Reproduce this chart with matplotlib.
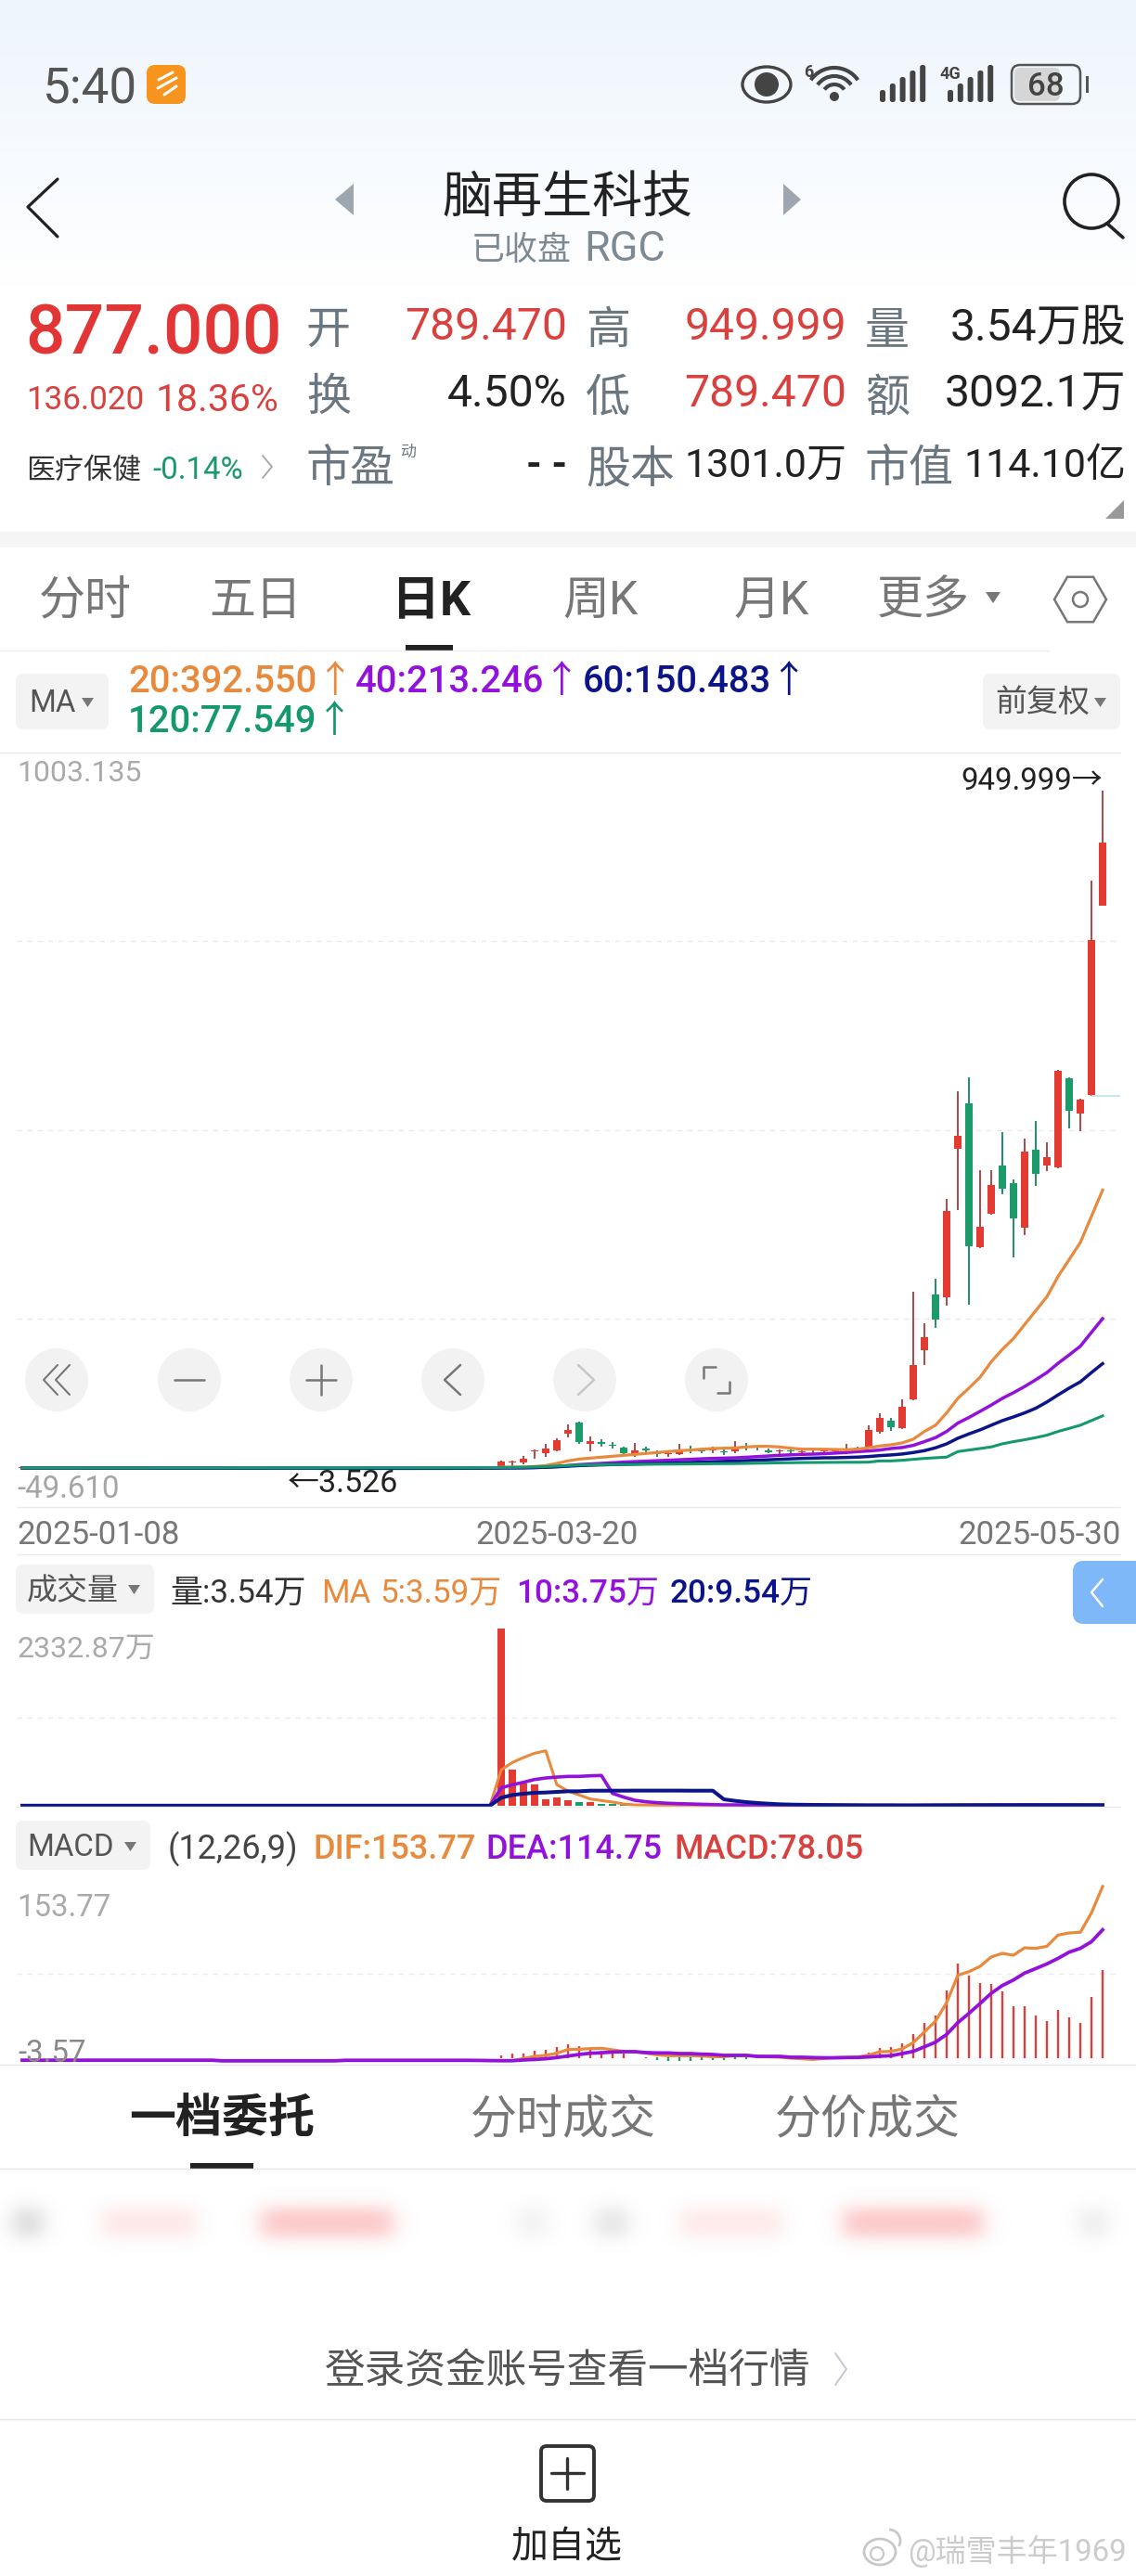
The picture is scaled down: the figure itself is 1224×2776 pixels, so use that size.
import numpy as np
import matplotlib
matplotlib.use("Agg")
import matplotlib.pyplot as plt
from matplotlib.patches import FancyBboxPatch, Circle, Ellipse, Polygon, Rectangle, Arc

FONT = ['Roboto', 'Noto Sans CJK SC', 'DejaVu Sans']
plt.rcParams['font.family'] = FONT

# ---------- DATA ----------
dates = ['2025-01-08', '2025-03-20', '2025-05-30']
price_max, price_min = 1003.135, -49.610
vol_max = 2332.87
macd_max, macd_min = 153.77, -3.57

opens = [4.6,4.7,4.5,4.6,4.8,4.6,4.5,4.4,4.6,4.5,4.4,4.5,4.3,4.4,4.5,4.3,4.2,4.3,4.4,4.2,4.1,4.2,4.0,3.9,3.8,3.9,4.0,4.1,4.0,4.2,4.1,4.3,4.2,4.3,4.4,4.3,4.4,4.5,4.4,4.5,4.6,4.5,4.6,
         7.3,12.5,12.5,28.1,25.5,29.8,52.7,67.9,38.0,40.6,37.6,32.8,25.0,32.0,25.5,24.6,24.6,29.8,29.4,29.0,28.5,27.7,35.4,32.2,29.4,27.7,28.5,27.3,27.5,27.8,28.0,30.7,32.9,
         32.9,54.9,71.0,60.1,101.2,169.5,247.3,242.5,450.0,513.5,312.9,359.6,427.5,402.9,339.8,448.7,426.6,424.0,548.5,500.0,524.7,789.47]
closes = [4.7,4.5,4.6,4.8,4.6,4.5,4.4,4.6,4.5,4.4,4.5,4.3,4.4,4.5,4.3,4.2,4.3,4.4,4.2,4.1,4.2,4.0,3.9,3.8,3.7,4.0,4.1,4.0,4.2,4.1,4.3,4.2,4.3,4.4,4.3,4.4,4.5,4.4,4.5,4.6,4.5,4.6,4.7,
          13.4,13.4,18.2,29.8,31.5,43.2,57.9,40.6,42.4,38.9,35.4,25.9,29.4,29.4,24.6,25.5,30.7,29.0,28.5,30.7,27.2,34.2,34.2,31.4,27.2,28.5,27.7,28.1,28.2,28.5,28.8,32.0,31.6,
          58.0,75.3,61.4,90.4,148.7,187.6,212.3,364.0,467.7,313.8,341.0,400.3,394.2,352.7,446.9,415.8,439.0,559.0,503.0,518.3,740.98,877.0]
highs = [5.0,5.0,4.8,5.0,5.1,4.9,4.7,4.8,4.8,4.7,4.7,4.7,4.6,4.7,4.7,4.5,4.5,4.6,4.6,4.4,4.4,4.3,4.2,4.1,4.0,4.2,4.3,4.3,4.4,4.4,4.5,4.4,4.5,4.6,4.6,4.6,4.7,4.7,4.7,4.8,4.8,4.8,5.0,
         14.7,14.7,21.2,31.1,38.5,46.2,65.3,69.6,49.3,45.0,40.6,35.0,39.3,35.0,29.0,28.5,38.0,35.4,32.0,34.2,30.7,41.9,39.3,35.0,32.0,30.7,31.0,29.8,30.0,31.0,31.0,38.5,35.0,
         64.5,81.7,74.4,101.2,250.3,206.2,268.9,379.9,530.8,549.8,420.1,420.1,473.7,407.0,464.0,489.0,459.0,560.0,549.8,520.4,825.0,949.999]
lows = [4.3,4.3,4.2,4.3,4.4,4.3,4.2,4.2,4.3,4.2,4.2,4.1,4.1,4.2,4.1,4.0,4.0,4.1,4.0,3.9,3.9,3.8,3.7,3.6,3.526,3.7,3.8,3.8,3.9,3.9,4.0,4.0,4.0,4.1,4.1,4.1,4.2,4.2,4.2,4.3,4.3,4.3,4.4,
        5.2,5.2,10.4,18.2,20.3,28.5,47.1,38.5,28.5,34.2,32.0,23.3,19.9,25.5,20.3,20.7,22.5,25.5,25.9,25.5,23.3,25.9,29.8,29.4,25.0,24.2,25.0,23.3,24.0,24.5,25.0,27.7,30.0,
        32.0,52.8,57.1,58.8,99.0,148.8,200.6,231.7,364.8,233.0,311.6,358.0,387.3,298.7,330.0,398.5,419.0,423.0,478.5,475.0,524.0,789.47]

ma20 = [4.6,4.6,4.6,4.6,4.6,4.6,4.6,4.5,4.5,4.5,4.5,4.5,4.5,4.4,4.4,4.4,4.4,4.4,4.4,4.3,4.3,4.3,4.3,4.2,4.2,4.2,4.2,4.2,4.2,4.2,4.2,4.2,4.2,4.2,4.2,4.2,4.3,4.3,4.3,4.3,4.3,4.3,4.4,
        6.0,6.0,6.3,6.9,8.2,11.2,14.7,17.3,18.6,19.9,21.2,22.5,23.8,25.1,26.4,27.7,29.0,29.8,31.1,32.0,32.4,32.8,34.2,35.0,35.0,34.2,32.4,31.1,31.1,31.0,30.7,
        30.3,31.2,33.0,35.5,37.2,39.8,45.0,55.8,64.5,81.7,102.0,116.3,131.5,153.0,170.4,185.5,205.0,224.4,243.8,272.0,295.7,319.4,356.0,392.55]
ma40 = [4.7,4.7,4.7,4.7,4.7,4.6,4.6,4.6,4.6,4.6,4.6,4.6,4.5,4.5,4.5,4.5,4.5,4.5,4.5,4.4,4.4,4.4,4.4,4.4,4.4,4.4,4.4,4.3,4.3,4.3,4.3,4.3,4.3,4.3,4.3,4.3,4.3,4.3,4.3,4.3,4.4,4.4,4.6,
        5.2,5.2,5.3,5.5,6.0,6.9,8.2,9.5,10.4,11.2,12.1,13.0,13.7,14.3,15.0,15.6,16.3,16.9,17.6,18.2,18.6,19.0,19.8,20.7,21.6,22.5,23.2,23.8,24.2,24.8,25.6,
        26.5,27.7,28.6,29.9,32.0,33.4,36.4,41.6,47.2,55.8,67.5,75.3,83.9,92.6,102.0,109.9,118.5,128.0,138.0,150.9,162.6,174.7,194.1,213.25]
ma60 = [4.8,4.8,4.8,4.8,4.8,4.8,4.7,4.7,4.7,4.7,4.7,4.7,4.6,4.6,4.6,4.6,4.6,4.6,4.6,4.5,4.5,4.5,4.5,4.5,4.5,4.5,4.5,4.5,4.4,4.4,4.4,4.4,4.4,4.4,4.4,4.4,4.4,4.4,4.4,4.5,4.5,4.6,4.7,
        4.8,4.9,5.0,5.4,5.9,6.5,7.3,8.2,8.7,9.2,9.6,10.0,10.4,10.8,11.2,11.6,12.0,12.5,13.0,13.5,14.0,14.6,15.1,15.7,16.3,16.9,17.6,18.2,18.6,19.0,19.1,
        19.5,20.0,20.8,22.1,23.0,24.3,26.4,29.0,33.0,38.5,46.3,52.4,58.0,64.5,70.9,76.1,81.7,88.2,96.9,106.8,116.3,125.0,138.0,150.48]
ma120 = [5.0,5.0,5.0,5.0,5.0,5.0,5.0,5.0,5.0,5.0,5.0,5.0,5.0,5.0,5.0,5.0,5.0,5.0,5.0,5.0,5.0,5.0,5.0,5.0,5.0,5.0,5.0,5.0,5.0,5.0,5.0,5.1,5.1,5.1,5.1,5.1,5.1,5.1,5.1,5.2,5.2,5.3,5.4,
         5.5,5.6,5.8,6.2,6.8,7.5,8.2,9.0,9.2,9.4,9.6,9.7,9.8,10.0,10.1,10.2,10.3,10.4,10.6,10.8,10.9,11.0,11.2,11.5,11.7,12.0,12.2,12.4,12.5,12.6,12.7,
         12.8,12.8,13.0,14.7,14.7,15.6,16.9,18.2,19.1,20.0,27.7,29.9,32.0,34.2,38.5,41.6,44.2,47.2,50.6,55.8,60.1,64.5,71.0,77.55]

vol = [3,2,2,3,2,2,2,1,2,2,1,2,2,2,1,1,2,2,1,1,2,1,1,2,1,1,2,1,2,2,1,2,1,2,2,1,2,2,2,2,3,2,3,
       2332.87,472,297,285,90,114,73,49,49,28,24,12,10,9,8,8,9,7,6,6,6,7,6,5,5,4,4,4,4,4,4,
       4,3,6,7,5,8,6,14,9,7,12,10,13,10,8,7,6,6,5,4,4,3,3.7,3.54]
vol_ma5 = [2,2,2,2,2,2,2,2,2,2,2,2,2,2,2,2,2,2,1,1,2,1,1,2,1,1,2,1,2,2,1,2,1,2,2,1,2,2,2,2,3,2,3,
           472,570,635,692,724,277,195,142,90,69,49,24,12,10,9,8,8,8,7,7,6,6,6,6,5,5,5,4,4,4,4,
           4,4,4,5,5,6,6,8,8,9,9,10,10,10,10,8,7,7,6,5,5,4.5,4,3.59]
vol_ma10 = [2,2,2,2,2,2,2,2,2,2,2,2,2,2,2,2,2,2,2,2,2,2,2,2,2,2,2,2,2,2,2,2,2,2,2,2,2,2,2,2,2,2,2,
            236,277,309,346,366,378,387,387,395,399,163,114,73,53,41,33,28,24,20,16,12,12,8,8,7,7,6,6,6,5,5,
            5,5,5,5,5,5,5,6,6,7,7,8,9,9,9,9,9,8,8,7,6,5,4.5,3.75]
vol_ma20 = [2,2,2,2,2,2,2,2,2,2,2,2,2,2,2,2,2,2,2,2,2,2,2,2,2,2,2,2,2,2,2,2,2,2,2,2,2,2,2,2,2,2,2,
            106,142,159,171,175,183,191,191,199,199,199,199,200,200,200,200,200,199,199,199,85,65,49,37,28,20,16,14,12,11,10,
            9,8,7,7,7,6,6,6,7,7,8,8,8,9,9,9,10,10,10,10,10,10,9.8,9.54]

dif = [-2.9,-2.9,-2.9,-2.9,-2.9,-2.9,-2.9,-2.9,-2.9,-2.9,-2.9,-2.9,-2.9,-2.9,-2.9,-2.9,-2.9,-2.9,-3.4,-3.4,-3.4,-3.4,-3.4,-3.4,-3.4,-3.4,-3.4,-3.4,-3.4,-3.0,-3.0,-3.0,-3.0,-3.0,-3.0,-3.0,-3.0,-3.0,-3.0,-3.0,-3.0,-3.1,-3.2,
       -3.3,-3.3,-1.3,0.6,1.5,3.4,6.8,7.0,7.6,7.9,6.5,5.1,4.8,3.4,2.0,1.2,1.2,1.2,0.9,0.3,0.3,1.2,1.5,0.6,0.1,-0.2,-1.0,-1.6,-2.2,-1.3,-0.5,
       -0.3,0.0,1.7,4.8,5.1,7.3,12.9,22.6,32.4,49.1,73.7,77.0,81.8,90.2,93.5,91.8,98.5,98.0,99.9,110.0,111.9,112.5,130.0,153.77]
dea = [-2.9,-2.9,-2.9,-2.9,-2.9,-2.9,-2.9,-2.9,-2.9,-2.9,-2.9,-2.9,-2.9,-2.9,-2.9,-2.9,-2.9,-2.9,-3.4,-3.4,-3.4,-3.4,-3.4,-3.4,-3.4,-3.4,-3.4,-3.4,-3.4,-3.0,-3.0,-3.0,-3.0,-3.0,-3.0,-3.0,-3.0,-3.0,-3.0,-3.0,-3.0,-3.1,-3.2,
       -3.3,-3.3,-2.7,-2.2,-1.6,-0.5,0.9,2.3,3.4,3.8,4.5,4.8,4.8,4.0,3.7,3.7,3.1,3.1,2.6,2.3,1.5,1.5,1.5,0.6,0.6,0.6,-0.2,-0.2,-0.5,-0.7,-0.7,
       -0.5,-0.4,0.1,0.7,1.2,3.1,5.1,9.2,13.4,20.4,31.0,39.4,48.3,57.5,64.5,69.5,75.7,79.8,84.0,89.0,94.6,98.0,104.0,114.75]
macd = [0.0]*43 + [1.5,2.8,3.3,5.6,6.7,8.9,11.7,9.8,8.9,6.0,5.0,2.8,0.0,-1.0,-3.0,-5.0,-3.5,-3.5,-3.0,-3.0,-2.8,-1.5,-1.5,-1.0,-1.2,-0.8,-0.8,-0.8,-0.6,0.2,0.2,
       0.3,0.5,3.7,7.9,8.7,12.0,21.0,31.0,37.7,60.3,84.6,73.7,66.5,65.6,58.9,45.5,45.5,37.7,32.7,42.2,36.0,31.0,53.9,78.05]

W, H = 1224, 2776
RED, GREEN, WICK_R, WICK_G = '#E33A32', '#1B9A6A', '#B04848', '#1F8F68'
ORANGE, PURPLE, NAVY, TEAL = '#E8893C', '#9212DC', '#0B1488', '#14996E'

fig = plt.figure(figsize=(W/100, H/100), dpi=100, facecolor='white')

# background gradient
bg = fig.add_axes([0, 0, 1, 1], zorder=-5)
bg.set_xlim(0, W); bg.set_ylim(H, 0); bg.axis('off')
grad = np.ones((300, 2, 3))
top = np.array([0xEE, 0xF5, 0xFD]) / 255
for k in range(300):
    grad[k, :, :] = top + (1 - top) * (k / 299)
bg.imshow(grad, extent=(0, W, 310, 0), aspect='auto', zorder=0)
bg.set_xlim(0, W); bg.set_ylim(H, 0)

def panel(y0, y1, lo, hi):
    a = fig.add_axes([0, 1 - y1 / H, 1, (y1 - y0) / H], zorder=2)
    a.patch.set_alpha(0)
    a.set_xlim(-2, 100)
    a.set_ylim(lo, hi)
    for s in a.spines.values():
        s.set_visible(False)
    a.set_yticks([])
    a.set_xticks([])
    return a

xs = np.arange(len(closes))
o, c, hi, lo = map(np.array, (opens, closes, highs, lows))
up = c >= o
GX0, GX1 = -0.5, 98.6
DASH = (0, (4, 4))

# ---------- price panel ----------
ax = panel(811, 1624, price_min, price_max)
step = (price_max - price_min) / 4
ax.hlines([price_max - step * k for k in (1, 2, 3)], GX0, GX1, colors='#EAEAEA', linestyles=DASH, lw=1)
ax.vlines(xs[up], lo[up], hi[up], colors=WICK_R, lw=1.4, zorder=2)
ax.vlines(xs[~up], lo[~up], hi[~up], colors=WICK_G, lw=1.4, zorder=2)
ax.bar(xs[up], np.maximum(c[up] - o[up], 1.2), bottom=o[up], width=0.68, color=RED, zorder=3)
ax.bar(xs[~up], np.maximum(o[~up] - c[~up], 1.2), bottom=c[~up], width=0.68, color=GREEN, zorder=3)
ax.hlines(524, 96, GX1, colors='#BCE3EE', lw=1.2, zorder=2)
ax.plot(xs, ma40, color=PURPLE, lw=2.5, zorder=4)
ax.plot(xs, ma20, color=ORANGE, lw=2.3, zorder=5)
ax.plot(xs, ma60, color=NAVY, lw=2.5, zorder=6)
ax.plot(xs, ma120, color=TEAL, lw=2.2, zorder=7)
ax.set_xticks([-0.5, 48, 98.67])
ax.set_xticklabels(dates, fontsize=25, color='#777777')
ax.tick_params(axis='x', length=0, pad=10)
lbls = ax.get_xticklabels()
lbls[0].set_ha('left'); lbls[2].set_ha('right')

# ---------- volume panel ----------
ax2 = panel(1755, 1946, 0, vol_max)
v = np.array(vol)
ax2.hlines(vol_max / 2, GX0, GX1, colors='#EAEAEA', linestyles=DASH, lw=1)
ax2.bar(xs[up], v[up], width=0.66, color=RED, zorder=2)
ax2.bar(xs[~up], v[~up], width=0.66, color=GREEN, zorder=2)
ax2.plot(xs, vol_ma5, color=ORANGE, lw=2.2, zorder=3, clip_on=False)
ax2.plot(xs, vol_ma10, color=PURPLE, lw=2.6, zorder=4, clip_on=False)
ax2.plot(xs, vol_ma20, color=NAVY, lw=2.9, zorder=5, clip_on=False)

# ---------- MACD panel ----------
ax3 = panel(2033, 2221, macd_min, macd_max)
m = np.array(macd)
ax3.hlines((macd_max + macd_min) / 2, GX0, GX1, colors='#EAEAEA', linestyles=DASH, lw=1)
pos = m > 0
neg = m < 0
ax3.vlines(xs[pos], -0.8, m[pos], colors='#D9413F', lw=1.7, zorder=2)
ax3.vlines(xs[neg], 0, m[neg], colors=GREEN, lw=1.7, zorder=2)
ax3.plot(xs, dif, color=ORANGE, lw=2.3, zorder=3, clip_on=False)
ax3.plot(xs, dea, color=PURPLE, lw=2.7, zorder=4, clip_on=False)

# ---------- overlay with the app chrome ----------
ov = fig.add_axes([0, 0, 1, 1], zorder=10)
ov.patch.set_alpha(0)
ov.set_xlim(0, W); ov.set_ylim(H, 0); ov.axis('off')

def T(x, y, s, px, color='#222222', ha='left', weight='normal', va='center', **kw):
    return ov.text(x, y + 4, s, fontsize=px * 0.72, color=color, ha=ha, va=va, weight=weight, family=FONT, **kw)

def L(xs_, ys_, color='#777777', lw=1.5, **kw):
    ov.plot(xs_, ys_, color=color, lw=lw, solid_capstyle='round', solid_joinstyle='round', **kw)

def box(x0, y0, x1, y1, color, r=8, **kw):
    ov.add_patch(FancyBboxPatch((x0, y0), x1 - x0, y1 - y0, boxstyle=f'round,pad=0,rounding_size={r}', fc=color, ec=kw.pop('ec', 'none'), lw=kw.pop('lw', 0), **kw))

def tri(pts, color):
    ov.add_patch(Polygon(pts, closed=True, fc=color, ec='none'))

def blob(x0, x1, yc, hh, rgb, alpha):
    pad = 40
    nx, ny = 100, 60
    X = np.linspace(x0 - pad, x1 + pad, nx)
    Y = np.linspace(yc - hh - pad, yc + hh + pad, ny)
    mx = 0.5 * (np.tanh((X - x0) / 13) - np.tanh((X - x1) / 13))
    my = 0.5 * (np.tanh((Y - (yc - hh)) / 11) - np.tanh((Y - (yc + hh)) / 11))
    img = np.zeros((ny, nx, 4))
    img[..., :3] = rgb
    img[..., 3] = alpha * np.outer(my, mx)
    ov.imshow(img, extent=(X[0], X[-1], Y[-1], Y[0]), aspect='auto', interpolation='bilinear', zorder=1)

# status bar
T(45, 93, '5:40', 53, '#555555')
box(158, 70, 200, 112, '#F7941D', r=9)
L([171, 186], [86, 78], 'white', 2.2); L([170, 190], [95, 84], 'white', 2.2); L([177, 190], [102, 93], 'white', 2.2)
ov.add_patch(Ellipse((826, 91), 52, 38, fc='none', ec='#444444', lw=2.4))
ov.add_patch(Circle((826, 91), 13, fc='#444444', ec='none'))
T(866, 74, '6', 18, '#444444', weight='bold')
for r_ in (13, 22, 31):
    ov.add_patch(Arc((899, 104), 2 * r_, 2 * r_, theta1=215, theta2=325, color='#444444', lw=3))
ov.add_patch(Circle((899, 104), 5, fc='#444444', ec='none'))
for base in (948, 1021):
    for k, t in enumerate((97, 90, 83, 76, 70)):
        ov.add_patch(FancyBboxPatch((base + k * 10.8, t), 6, 110 - t, boxstyle='round,pad=0,rounding_size=2.5', fc='#444444', ec='none'))
T(1012, 76, '4G', 18, '#444444', weight='bold', zorder=6, bbox=dict(fc='#F3F7FD', ec='none', pad=0.5))
box(1090, 70, 1164, 112, 'none', r=9, ec='#555555', lw=1.8)
box(1093, 73, 1142, 109, '#D6D6D6', r=6)
T(1127, 89, '68', 35, '#444444', ha='center', weight='medium')
ov.add_patch(Rectangle((1170, 82), 3, 18, fc='#555555', ec='none'))

# title
L([62, 30, 62], [193, 223, 255], '#222222', 2.3)
T(611, 211, '脑再生科技', 54, '#222222', ha='center')
T(508, 266, '已收盘', 36, '#7D8A94')
T(629, 265, 'RGC', 45, '#7D8A94')
tri([(381, 198), (381, 232), (361, 215)], '#9EA7B0')
tri([(844, 198), (844, 232), (863, 215)], '#9EA7B0')
ov.add_patch(Circle((1176, 217), 29, fc='none', ec='#222222', lw=2.6))
L([1193, 1210], [241, 256], '#222222', 2.6)

# quote block
LBL, NUMR, NUMK = '#6B7780', '#D9413F', '#222222'
T(27, 357, '877.000', 75, '#E23636', weight='medium')
T(28, 427, '136.020', 35, '#D9413F')
T(168, 427, '18.36%', 41, '#D9413F')
rows = ((353, 48, ('开', '789.470', NUMR), ('高', '949.999', NUMR), ('量', '3.54万股', NUMK)),
        (425, 48, ('换', '4.50%', NUMK), ('低', '789.470', NUMR), ('额', '3092.1万', NUMK)),
        (502, 43, ('市盈', '- -', NUMK), ('股本', '1301.0万', NUMK), ('市值', '114.10亿', NUMK)))
cols = ((330, 611), (631, 912), (932, 1213))
for y, size, *cells in rows:
    for (xl, xr), (lab, val, col) in zip(cols, cells):
        T(xl, y, lab, 48, LBL)
        T(xr, y - 4, val, size, col, ha='right', weight='bold' if val == '- -' else 'normal')
T(431, 483, '动', 17, LBL)
T(28, 503, '医疗保健', 31, '#333333')
T(164, 503, '-0.14%', 33, '#1A9A6C')
L([283, 293, 283], [491, 503, 515], '#AAAAAA', 1.4)
tri([(1211, 539), (1211, 559), (1191, 559)], '#999999')
ov.add_patch(Rectangle((0, 573), W, 17, fc='#F5F5F5', ec='none'))

# tabs
for x, s in ((92, '分时'), (275, '五日'), (647, '周K'), (831, '月K'), (995, '更多')):
    T(x, 644, s, 50, '#777777', ha='center')
T(464, 644, '日K', 52, '#222222', ha='center', weight='bold')
tri([(1062, 638), (1078, 638), (1070, 650)], '#777777')
ov.add_patch(Polygon([(1164 + 28 * np.cos(a), 646 + 28 * np.sin(a)) for a in np.radians(np.arange(0, 360, 60))],
                     closed=True, fc='none', ec='#777777', lw=1.8))
ov.add_patch(Circle((1164, 646), 8, fc='none', ec='#777777', lw=1.8))
ov.add_patch(Rectangle((437, 695), 51, 6, fc='#222222', ec='none'))
L([0, 1130], [701, 701], '#EEEEEE', 1)

# MA legend
box(17, 726, 117, 786, '#F3F3F3')
T(56, 754, 'MA', 33, '#555555', ha='center')
tri([(88, 752), (101, 752), (94.5, 762)], '#777777')
T(138, 731, '20:392.550↑', 40, ORANGE, weight='medium')
T(383, 731, '40:213.246↑', 40, PURPLE, weight='medium')
T(628, 731, '60:150.483↑', 40, NAVY, weight='medium')
T(138, 774, '120:77.549↑', 40, TEAL, weight='medium')
box(1059, 726, 1207, 786, '#F3F3F3')
T(1123, 754, '前复权', 34, '#555555', ha='center')
tri([(1179, 752), (1192, 752), (1185.5, 762)], '#777777')

# price panel chrome
L([0, 1207], [811, 811], '#E8E8E8', 1)
L([18, 1207], [1624, 1624], '#EBEBEB', 1)
L([18, 1207], [1675, 1675], '#EBEBEB', 1)
T(18, 829, f'{price_max:.3f}', 32, '#AAAAAA')
T(18, 1601, f'{price_min:.3f}', 33, '#A5A5A5')
T(1188, 838, '949.999→', 33, '#222222', ha='right')
T(310, 1595, '←3.526', 34, '#222222')

# chart control buttons
for cx in (61, 204, 346, 488, 630, 772):
    ov.add_patch(Circle((cx, 1487), 34, fc='#F2F2F2', ec='none'))
L([62, 47, 62], [1471, 1487, 1503]); L([75, 60, 75], [1471, 1487, 1503])
L([188, 220], [1487, 1487], '#777777', 1.8)
L([330, 362], [1487, 1487], '#777777', 1.8); L([346, 346], [1471, 1503], '#777777', 1.8)
L([496, 479, 496], [1471, 1487, 1503], '#777777', 1.8)
L([623, 640, 623], [1471, 1487, 1503], '#C8C8C8', 1.8)
L([758, 758, 771], [1485, 1473, 1473], '#777777', 1.8)
L([773, 786, 786], [1501, 1501, 1489], '#777777', 1.8)

# volume chrome
box(17, 1686, 166, 1739, '#F3F3F3')
T(78, 1710, '成交量', 33, '#555555', ha='center')
tri([(138, 1708), (151, 1708), (144.5, 1718)], '#777777')
T(183, 1713, '量:3.54万', 35, '#333333')
T(346, 1713, 'MA', 35, ORANGE)
T(409, 1713, '5:3.59万', 35, ORANGE)
T(556, 1713, '10:3.75万', 35, PURPLE, weight='medium')
T(722, 1713, '20:9.54万', 35, NAVY, weight='medium')
box(1156, 1682, 1250, 1750, '#7FB8F8', r=12)
L([1188, 1176, 1188], [1702, 1716, 1731], 'white', 1.8)
T(18, 1773, '2332.87万', 32, '#AAAAAA')
L([18, 1207], [1947, 1947], '#EBEBEB', 1)

# MACD chrome
box(17, 1962, 162, 2015, '#F3F3F3')
T(76, 1987, 'MACD', 33, '#555555', ha='center')
tri([(134, 1985), (147, 1985), (140.5, 1995)], '#777777')
T(181, 1989, '(12,26,9)', 36, '#444444')
T(337, 1989, 'DIF:153.77', 36, ORANGE, weight='medium')
T(523, 1989, 'DEA:114.75', 36, PURPLE, weight='medium')
T(726, 1989, 'MACD:78.05', 36, '#D9413F', weight='medium')
T(18, 2052, f'{macd_max:.2f}', 33, '#AAAAAA')
T(19, 2209, f'{macd_min:.2f}', 33, '#888888')
L([0, W], [2225, 2225], '#E4E4E4', 1)

# lower tabs
T(239, 2281, '一档委托', 50, '#222222', ha='center', weight='bold')
T(607, 2281, '分时成交', 50, '#777777', ha='center')
T(935, 2281, '分价成交', 50, '#777777', ha='center')
ov.add_patch(Rectangle((205, 2331), 68, 6, fc='#222222', ec='none'))
L([0, W], [2337, 2337], '#E5E5E5', 1)

# blurred order book
GR, PK = (0.6, 0.6, 0.6), (0.98, 0.55, 0.55)
for x0, x1, col, al in ((14, 46, GR, 0.38), (110, 212, PK, 0.22), (281, 424, PK, 0.52),
                        (558, 590, GR, 0.14), (642, 676, GR, 0.28), (733, 842, PK, 0.2),
                        (908, 1060, PK, 0.52), (1164, 1192, GR, 0.2)):
    blob(x0, x1, 2395, 15, col, al)
ov.set_xlim(0, W); ov.set_ylim(H, 0)

T(612, 2552, '登录资金账号查看一档行情', 43.7, '#555555', ha='center')
L([900, 912, 900], [2536, 2553, 2570], '#C4C8CC', 1.4)
L([0, W], [2607, 2607], '#E5E5E5', 1)

# add-to-watchlist
box(583, 2636, 640, 2695, 'none', r=6, ec='#333333', lw=2.8)
L([594, 629], [2665, 2665], '#333333', 2.4); L([611, 611], [2649, 2682], '#333333', 2.4)
T(611, 2741, '加自选', 40, '#222222', ha='center')

# watermark
ov.add_patch(Ellipse((948, 2750), 34, 28, fc='none', ec='#C8C8C8', lw=2))
ov.add_patch(Circle((945, 2752), 7, fc='none', ec='#C8C8C8', lw=1.6))
ov.add_patch(Arc((958, 2738), 24, 24, theta1=270, theta2=30, color='#C8C8C8', lw=2))
T(978, 2745, '@瑞雪丰年1969', 33, '#CCCCCC')

fig.savefig('out.png', dpi=100, facecolor='white')
